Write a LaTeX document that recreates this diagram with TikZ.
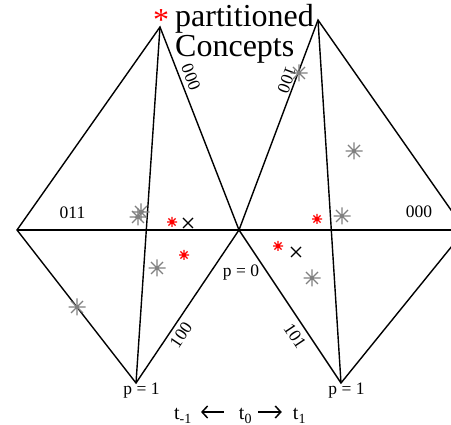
\documentclass[tikz,border=0pt]{standalone}
\usepackage{fontspec}
\setmainfont{Liberation Serif}
\usetikzlibrary{arrows.meta}
\tikzset{
  edge/.style={line width=1.4pt, line join=miter},
  lbl/.style={font=\fontsize{17.5}{20}\selectfont, inner sep=0pt},
  title/.style={font=\fontsize{32}{32}\selectfont, inner sep=0pt, anchor=base west},
  tlbl/.style={font=\fontsize{20}{22}\selectfont, inner sep=0pt, text height=18pt, text depth=2pt},
  tarrow/.style={line width=1.5pt, -{Straight Barb[length=5.5pt,width=12pt]}},
  gast/.pic={\draw[gray, line width=1.1pt] (-8.5,0)--(8.5,0) (0,-8.5)--(0,8.5) (-6,-6)--(6,6) (-6,6)--(6,-6);},
  rast/.pic={\draw[red, line width=1.3pt] (-5,0)--(5,0) (0,-5)--(0,5) (-3.6,-3.6)--(3.6,3.6) (-3.6,3.6)--(3.6,-3.6);},
  xmark/.pic={\draw[black, line width=1.3pt] (-5,-5)--(5,5) (-5,5)--(5,-5);}
}
\begin{document}
\begin{tikzpicture}[x=1pt,y=-1pt]
\useasboundingbox (0,0) rectangle (451,425);
\clip (0,0) rectangle (451,425);
% vertices
\coordinate (LT) at (160,27);
\coordinate (LL) at (17,230);
\coordinate (C)  at (239,230);
\coordinate (LB) at (136,383);
\coordinate (RT) at (318,20);
\coordinate (RR) at (465,230);
\coordinate (RB) at (341,383);
% left shape
\draw[edge] (LL) -- (LT) -- (C) -- (LB) -- cycle;
\draw[edge] (LT) -- (LB);
% right shape
\draw[edge] (C) -- (RT) -- (RR) -- (RB) -- cycle;
\draw[edge] (RT) -- (RB);
\draw[edge] (LL) -- (RR);
% title
\node[title, text=red] (ast) at (153,31) {*};
\node[title] (t1) at (175,27) {partitioned};
\node[title] (t2) at (175,57) {Concepts};
% edge labels
\node[lbl, anchor=base] (l011) at (72.5,219) {011};
\node[lbl, anchor=base] (r000) at (419,218) {000};
\node[lbl, rotate=-68.7] (e000) at (191,77) {000};
\node[lbl, rotate=-110.6] (e100a) at (287,80) {100};
\node[lbl, rotate=56] (e100b) at (181,335) {100};
\node[lbl, rotate=-56.3] (e101) at (295,336) {101};
\node[lbl, anchor=base] (p0) at (241,277) {p = 0};
\node[lbl, anchor=base] (p1a) at (141.5,395) {p = 1};
\node[lbl, anchor=base] (p1b) at (346.5,395) {p = 1};
% markers
\pic at (141,212) {gast};
\pic at (138,217) {gast};
\pic at (157,268) {gast};
\pic at (77,307) {gast};
\pic at (342,216) {gast};
\pic at (312,278) {gast};
\pic at (354,151) {gast};
\pic at (299,73) {gast};
\pic at (172,222) {rast};
\pic at (184,255) {rast};
\pic at (317,219) {rast};
\pic at (278,246) {rast};
\pic at (188,223) {xmark};
\pic at (296,252) {xmark};
% time axis
\node[tlbl] (tm1) at (183,412) {t\textsubscript{-1}};
\node[tlbl] (t0) at (245.5,412) {t\textsubscript{0}};
\node[tlbl] (tp1) at (299.5,412) {t\textsubscript{1}};
\draw[tarrow, shorten <=15pt, shorten >=9pt] (t0.west) -- (tm1.east);
\draw[tarrow, shorten <=6pt, shorten >=11pt] (t0.east) -- (tp1.west);
\end{tikzpicture}
\end{document}
